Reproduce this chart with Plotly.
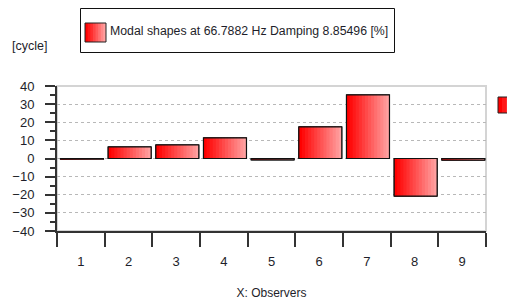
import plotly.graph_objects as go

observers = ["1", "2", "3", "4", "5", "6", "7", "8", "9"]
modal_values = [-0.4, 6.4, 7.5, 11.4, -0.8, 17.5, 35.1, -20.8, -0.9]
y_ticks = [-40, -30, -20, -10, 0, 10, 20, 30, 40]
series_name = "Modal shapes at 66.7882 Hz Damping 8.85496 [%]"
y_unit = "[cycle]"
x_title = "X: Observers"

FONT = "Liberation Sans, Arial, sans-serif"
TXT = "#1e1e2a"
BAR_W = 0.902
BAR_OFF = -0.427
N_SLICES = 14

# page body adds an 8px offset; geometry below is in reference pixels
OFF = 8
ML, MT = 57 - OFF, 86 - OFF
PW, PH = 429, 145
MR = 515 - ML - PW
MB = 303 - MT - PH


def px(xp):
    return (xp - OFF - ML) / PW


def py(yp):
    return (MT + PH - (yp - OFF)) / PH


def lerp(a, b, t):
    return int(round(a + (b - a) * t))


def grad_col(t):
    return "rgb(255,{0},{0})".format(lerp(0, 160, t))


fig = go.Figure()

# base bar
fig.add_trace(go.Bar(
    x=observers, y=modal_values, name=series_name,
    width=BAR_W, offset=BAR_OFF,
    marker=dict(color="#ff3030", line=dict(color="#111111", width=1)),
    hoverinfo="skip", showlegend=False,
))

# gradient slices
s = BAR_W / N_SLICES
for k in range(N_SLICES):
    t = k / (N_SLICES - 1)
    start = BAR_OFF + k * s
    w = min(s * 1.6, BAR_OFF + BAR_W - start)
    fig.add_trace(go.Bar(
        x=observers, y=modal_values, width=w, offset=start,
        marker=dict(color=grad_col(t), line=dict(width=0)),
        showlegend=False, hoverinfo="skip",
    ))

# outline on top
fig.add_trace(go.Bar(
    x=observers, y=modal_values, width=BAR_W, offset=BAR_OFF,
    marker=dict(color="rgba(0,0,0,0)", line=dict(color="#111111", width=1.2)),
    showlegend=False, hoverinfo="skip",
))


def swatch(x0, x1, y0, y1, n=8):
    out = []
    sw = (x1 - x0) / n
    for k in range(n):
        out.append(dict(type="rect", xref="paper", yref="paper",
                        x0=px(x0 + k * sw), x1=px(min(x1, x0 + (k + 1.5) * sw)),
                        y0=py(y1), y1=py(y0), fillcolor=grad_col(k / (n - 1)),
                        line=dict(width=0), layer="above"))
    out.append(dict(type="rect", xref="paper", yref="paper",
                    x0=px(x0), x1=px(x1), y0=py(y1), y1=py(y0),
                    line=dict(color="#222222", width=1), layer="above"))
    return out


shapes = [
    # plot frame
    dict(type="rect", xref="paper", yref="paper", x0=0, x1=1, y0=0, y1=1,
         line=dict(color="#d4d4d4", width=2), layer="below"),
    # legend box
    dict(type="rect", xref="paper", yref="paper",
         x0=px(80.5), x1=px(394.5), y0=py(52.5), y1=py(8.5),
         fillcolor="white", line=dict(color="#111111", width=1), layer="above"),
]
shapes += swatch(85, 106, 23, 42)
shapes += swatch(498, 530, 97, 113)

fig.update_layout(
    width=515, height=303,
    margin=dict(l=ML, r=MR, t=MT, b=MB, autoexpand=False),
    paper_bgcolor="white", plot_bgcolor="white",
    barmode="overlay",
    font=dict(family=FONT, size=12.5, color=TXT),
    showlegend=False,
    xaxis=dict(
        type="category", tickson="boundaries", ticks="outside", ticklen=14,
        tickcolor="#333333", tickwidth=1.5, showline=True, linecolor="#333333",
        linewidth=2, showgrid=False, zeroline=False, range=[-0.5, 8.5],
        automargin=False, ticklabelstandoff=17,
        title=dict(text=x_title, standoff=21, font=dict(family=FONT, size=12, color=TXT)),
        tickfont=dict(family=FONT, size=13, color=TXT),
    ),
    yaxis=dict(
        range=[-40, 40], tickvals=y_ticks, ticks="outside", ticklen=10,
        tickcolor="#333333", tickwidth=1.5, showline=True, linecolor="#333333",
        linewidth=2, showgrid=True, gridcolor="#b8b8b8", griddash="dot",
        gridwidth=1, zeroline=False, ticklabelstandoff=8, automargin=False,
        tickfont=dict(family=FONT, size=13, color=TXT),
        minor=dict(dtick=5, ticks="outside", ticklen=5, tickcolor="#333333",
                   showgrid=False),
    ),
    shapes=shapes,
    annotations=[
        dict(text=series_name, xref="paper", yref="paper",
             x=px(108), y=py(31), xanchor="left", yanchor="middle",
             showarrow=False, font=dict(family=FONT, size=12.3, color=TXT)),
        dict(text=y_unit, xref="paper", yref="paper",
             x=px(29.5), y=py(46), xanchor="center", yanchor="middle",
             showarrow=False, font=dict(family=FONT, size=12.5, color=TXT)),
    ],
)

fig.write_html("out.html")
